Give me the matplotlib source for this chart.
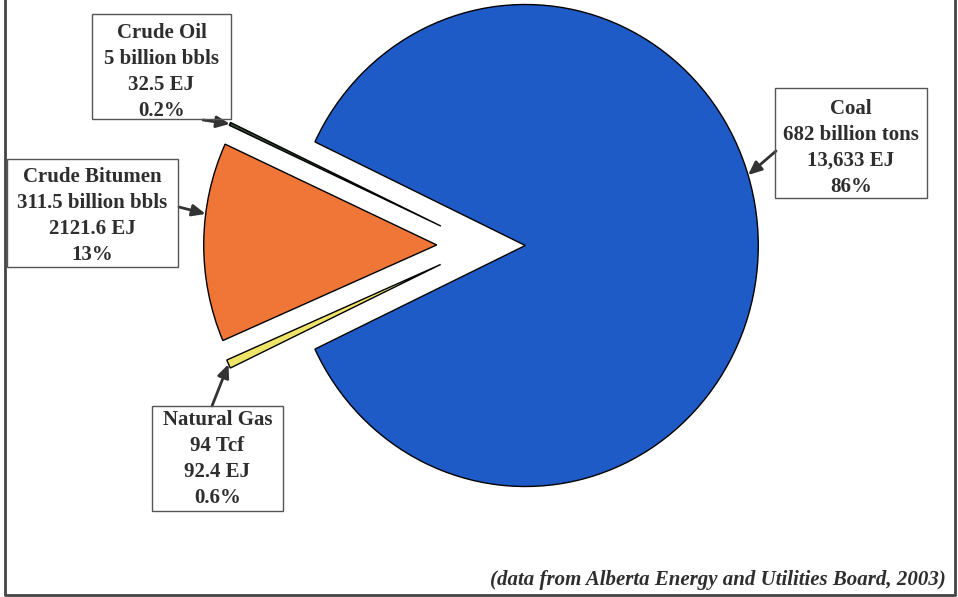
import numpy as np
import matplotlib
matplotlib.use('Agg')
import matplotlib.pyplot as plt
from matplotlib.patches import Rectangle

# Alberta energy reserves (energy content, EJ)
fuels = ['Coal', 'Crude Oil', 'Crude Bitumen', 'Natural Gas']
energy_ej = [13633, 32.5, 2121.6, 92.4]
amounts = ['682 billion tons', '5 billion bbls', '311.5 billion bbls', '94 Tcf']
energy_txt = ['13,633 EJ', '32.5 EJ', '2121.6 EJ', '92.4 EJ']
shares = ['86%', '0.2%', '13%', '0.6%']
colors = ['#1f5bc6', '#2f4a2f', '#ef7636', '#efe46a']

W, H = 958, 597
fig = plt.figure(figsize=(W / 100, H / 100), dpi=100)
ax = fig.add_axes([0, 0, 1, 1])

# pie centre in pixels and radius (slightly taller than wide, like the scan)
cx, cy = 481, 245.5
rx, ry = 233, 241

total = sum(energy_ej)
coal_deg = 360 * energy_ej[0] / total
wedges, _ = ax.pie(energy_ej, colors=colors, startangle=-coal_deg / 2,
                   counterclock=True, explode=[0.19] * 4, radius=1,
                   wedgeprops=dict(edgecolor='black', linewidth=1.0))
ax.set_aspect('auto')
ax.set_xlim(-cx / rx, (W - cx) / rx)
ax.set_ylim(-(H - cy) / ry, cy / ry)
ax.axis('off')


def px(x, y):
    return x / W, 1 - y / H


# label boxes (pixel boxes: left, top, right, bottom), text centre and arrow layout
boxes = {
    'Coal': (775, 88, 927, 198),
    'Crude Oil': (92, 14, 231, 119),
    'Crude Bitumen': (7, 159, 178, 267),
    'Natural Gas': (152, 406, 283, 511),
}
text_y = {'Coal': 148, 'Crude Oil': 72, 'Crude Bitumen': 216, 'Natural Gas': 459}
arrow_start = {
    'Coal': (776, 151),
    'Crude Oil': (203, 120),
    'Crude Bitumen': (179, 207),
    'Natural Gas': (212, 406),
}
arrow_angle = {'Coal': 17, 'Crude Oil': None, 'Crude Bitumen': 172.6, 'Natural Gas': None}

for i, name in enumerate(fuels):
    l, t, r, b = boxes[name]
    fig.patches.append(Rectangle(px(l, b), (r - l) / W, (b - t) / H,
                                 transform=fig.transFigure, fill=False,
                                 edgecolor='#555555', linewidth=1.0))
    label = '\n'.join([name, amounts[i], energy_txt[i], shares[i]])
    fig.text(*px((l + r) / 2, text_y[name]), label, ha='center', va='center',
             family='Liberation Serif', weight='bold', fontsize=15,
             color='#2e2e2e', linespacing=1.38)

    w = wedges[i]
    ang = arrow_angle[name]
    if ang is None:
        ang = (w.theta1 + w.theta2) / 2
    tip = (w.center[0] + w.r * np.cos(np.radians(ang)),
           w.center[1] + w.r * np.sin(np.radians(ang)))
    ax.annotate('', xy=tip, xycoords='data',
                xytext=px(*arrow_start[name]), textcoords='figure fraction',
                arrowprops=dict(arrowstyle='-|>,head_length=0.8,head_width=0.35',
                                color='#333333', lw=2, shrinkA=0, shrinkB=0))

fig.text(*px(946, 580), '(data from Alberta Energy and Utilities Board, 2003)',
         ha='right', va='center', family='Liberation Serif', weight='bold',
         style='italic', fontsize=15, color='#2e2e2e')

# outer frame (left, right, bottom)
fig.lines.append(plt.Line2D([5 / W, 5 / W, 955 / W, 955 / W],
                            [1, 1 - 595 / H, 1 - 595 / H, 1],
                            transform=fig.transFigure, color='#444444', lw=2))

fig.savefig('out.png', dpi=100, facecolor='white')
